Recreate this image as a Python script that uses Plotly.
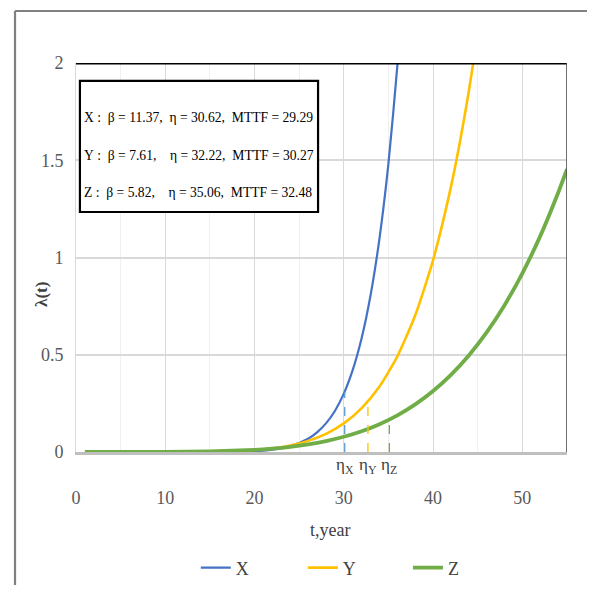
import plotly.graph_objects as go

# ---- data ----
t_x = [1, 5, 10, 15, 20, 22, 24, 26, 27, 28, 29, 30, 31, 32, 33, 34, 35, 36, 37]
lam_x = [0, 0, 0.000003, 0.00023, 0.0045, 0.012, 0.030, 0.068, 0.101, 0.147, 0.211,
         0.300, 0.422, 0.586, 0.807, 1.100, 1.484, 1.988, 2.641]

t_y = [1, 5, 10, 15, 20, 22, 24, 26, 28, 30, 32, 34, 36, 38, 40, 42, 43, 44, 45]
lam_y = [0, 0.000001, 0.0001, 0.0015, 0.0101, 0.019, 0.0337, 0.0572, 0.0934, 0.147,
         0.226, 0.337, 0.492, 0.703, 0.987, 1.363, 1.592, 1.853, 2.150]

t_z = [1, 5, 10, 15, 20, 22, 24, 26, 28, 30, 32, 34, 36, 38, 40, 42, 44, 46, 48, 50, 52, 54, 55]
lam_z = [0, 0.00001, 0.0004, 0.0028, 0.0111, 0.0176, 0.0267, 0.0393, 0.0562, 0.0783,
         0.1069, 0.1432, 0.1886, 0.2448, 0.3135, 0.3966, 0.4963, 0.6147, 0.7547, 0.9188,
         1.110, 1.332, 1.454]

series_names = ["X", "Y", "Z"]
eta_t = [30.1, 32.7, 35.1]          # dashed marker positions
eta_h = [0.31, 0.257, 0.154]        # dashed marker heights
info_lines = [
    "X :  β = 11.37,  η = 30.62,  MTTF = 29.29",
    "Y :  β = 7.61,    η = 32.22,  MTTF = 30.27",
    "Z :  β = 5.82,    η = 35.06,  MTTF = 32.48",
]
x_ticks = [0, 10, 20, 30, 40, 50]
y_ticks = [0, 0.5, 1, 1.5, 2]

colors = ["#4472C4", "#FFC000", "#70AD47"]
dash_colors = ["#5B9BD5", "#FFC000", "#70AD47"]
widths = [2.2, 2.6, 3.8]
legend_ids = ["legend", "legend2", "legend3"]
legend_x = [0.244, 0.462, 0.676]
FONT = "Liberation Serif"

fig = go.Figure()
for tt, ll, name, c, w, lg in zip([t_x, t_y, t_z], [lam_x, lam_y, lam_z], series_names,
                                  colors, widths, legend_ids):
    fig.add_trace(go.Scatter(x=tt, y=ll, mode="lines", name=name, legend=lg,
                             line=dict(color=c, width=w, shape="spline", smoothing=0.6)))

for et, eh, c in zip(eta_t, eta_h, dash_colors):
    fig.add_trace(go.Scatter(x=[et, et], y=[0, eh], mode="lines", showlegend=False,
                             line=dict(color=c, width=1.3, dash="dash"), hoverinfo="skip"))

shapes = []
# outer frame: left and top edges (others lie outside the picture)
shapes.append(dict(type="line", xref="paper", yref="paper", x0=-0.1242, x1=-0.1242,
                   y0=-0.5, y1=1.1337, line=dict(color="#808080", width=2.2), layer="below"))
shapes.append(dict(type="line", xref="paper", yref="paper", x0=-0.1242, x1=1.2,
                   y0=1.1337, y1=1.1337, line=dict(color="#808080", width=2.2), layer="below"))
# top black line at y=2
shapes.append(dict(type="line", xref="x", yref="y", x0=0, x1=55, y0=2, y1=2,
                   line=dict(color="black", width=3)))
# right border
shapes.append(dict(type="line", xref="x", yref="y", x0=55, x1=55, y0=0, y1=2,
                   line=dict(color="#404040", width=1.5)))
# info box
shapes.append(dict(type="rect", xref="paper", yref="paper", x0=0.008, x1=0.493,
                   y0=0.617, y1=0.954, line=dict(color="black", width=2.2),
                   fillcolor="white"))

annotations = []
for txt, yy in zip(info_lines, [0.859, 0.763, 0.668]):
    annotations.append(dict(xref="paper", yref="paper", x=0.013, y=yy, xanchor="left",
                            yanchor="middle", showarrow=False,
                            text=txt.replace(" ", "\u00a0"),
                            font=dict(family=FONT, size=13.6, color="#000000")))
for et, name in zip(eta_t, series_names):
    annotations.append(dict(xref="x", yref="paper", x=et, y=-0.035, xanchor="center",
                            yanchor="middle", showarrow=False, text="η<sub>%s</sub>" % name,
                            font=dict(family=FONT, size=17, color="#404040")))
annotations.append(dict(xref="paper", yref="paper", x=0.517, y=-0.20, xanchor="center",
                        yanchor="middle", showarrow=False, text="t,year",
                        font=dict(family=FONT, size=18, color="#404040")))
annotations.append(dict(xref="paper", yref="paper", x=-0.069, y=0.404, xanchor="center",
                        yanchor="middle", showarrow=False, textangle=-90,
                        text="<b>λ(t)</b>",
                        font=dict(family=FONT, size=17, color="#404040")))

legend_common = dict(orientation="h", y=-0.298, xanchor="left", yanchor="middle",
                     font=dict(family=FONT, size=18, color="#404040"),
                     bgcolor="rgba(0,0,0,0)")

fig.update_layout(
    width=579, height=577,
    margin=dict(l=68, r=20, t=55, b=133, autoexpand=False),
    paper_bgcolor="white", plot_bgcolor="white",
    shapes=shapes, annotations=annotations,
    showlegend=True,
    legend=dict(x=legend_x[0], **legend_common),
    legend2=dict(x=legend_x[1], **legend_common),
    legend3=dict(x=legend_x[2], **legend_common),
    xaxis=dict(range=[0, 55], tickvals=x_ticks, showgrid=True, gridcolor="#d9d9d9",
               gridwidth=1.3, zeroline=False, showline=True, linecolor="#bfbfbf",
               linewidth=2.5, ticks="", ticklabelstandoff=28,
               minor=dict(dtick=5, showgrid=True, gridcolor="#f0f0f0", gridwidth=1),
               tickfont=dict(family=FONT, size=18, color="#595959")),
    yaxis=dict(range=[0, 2], tickvals=y_ticks, showgrid=True, gridcolor="#d9d9d9",
               gridwidth=1.5, zeroline=False, showline=True, linecolor="#d9d9d9",
               linewidth=1, ticks="", ticklabelstandoff=8,
               tickfont=dict(family=FONT, size=18, color="#595959")),
)

fig.write_html("out.html")
